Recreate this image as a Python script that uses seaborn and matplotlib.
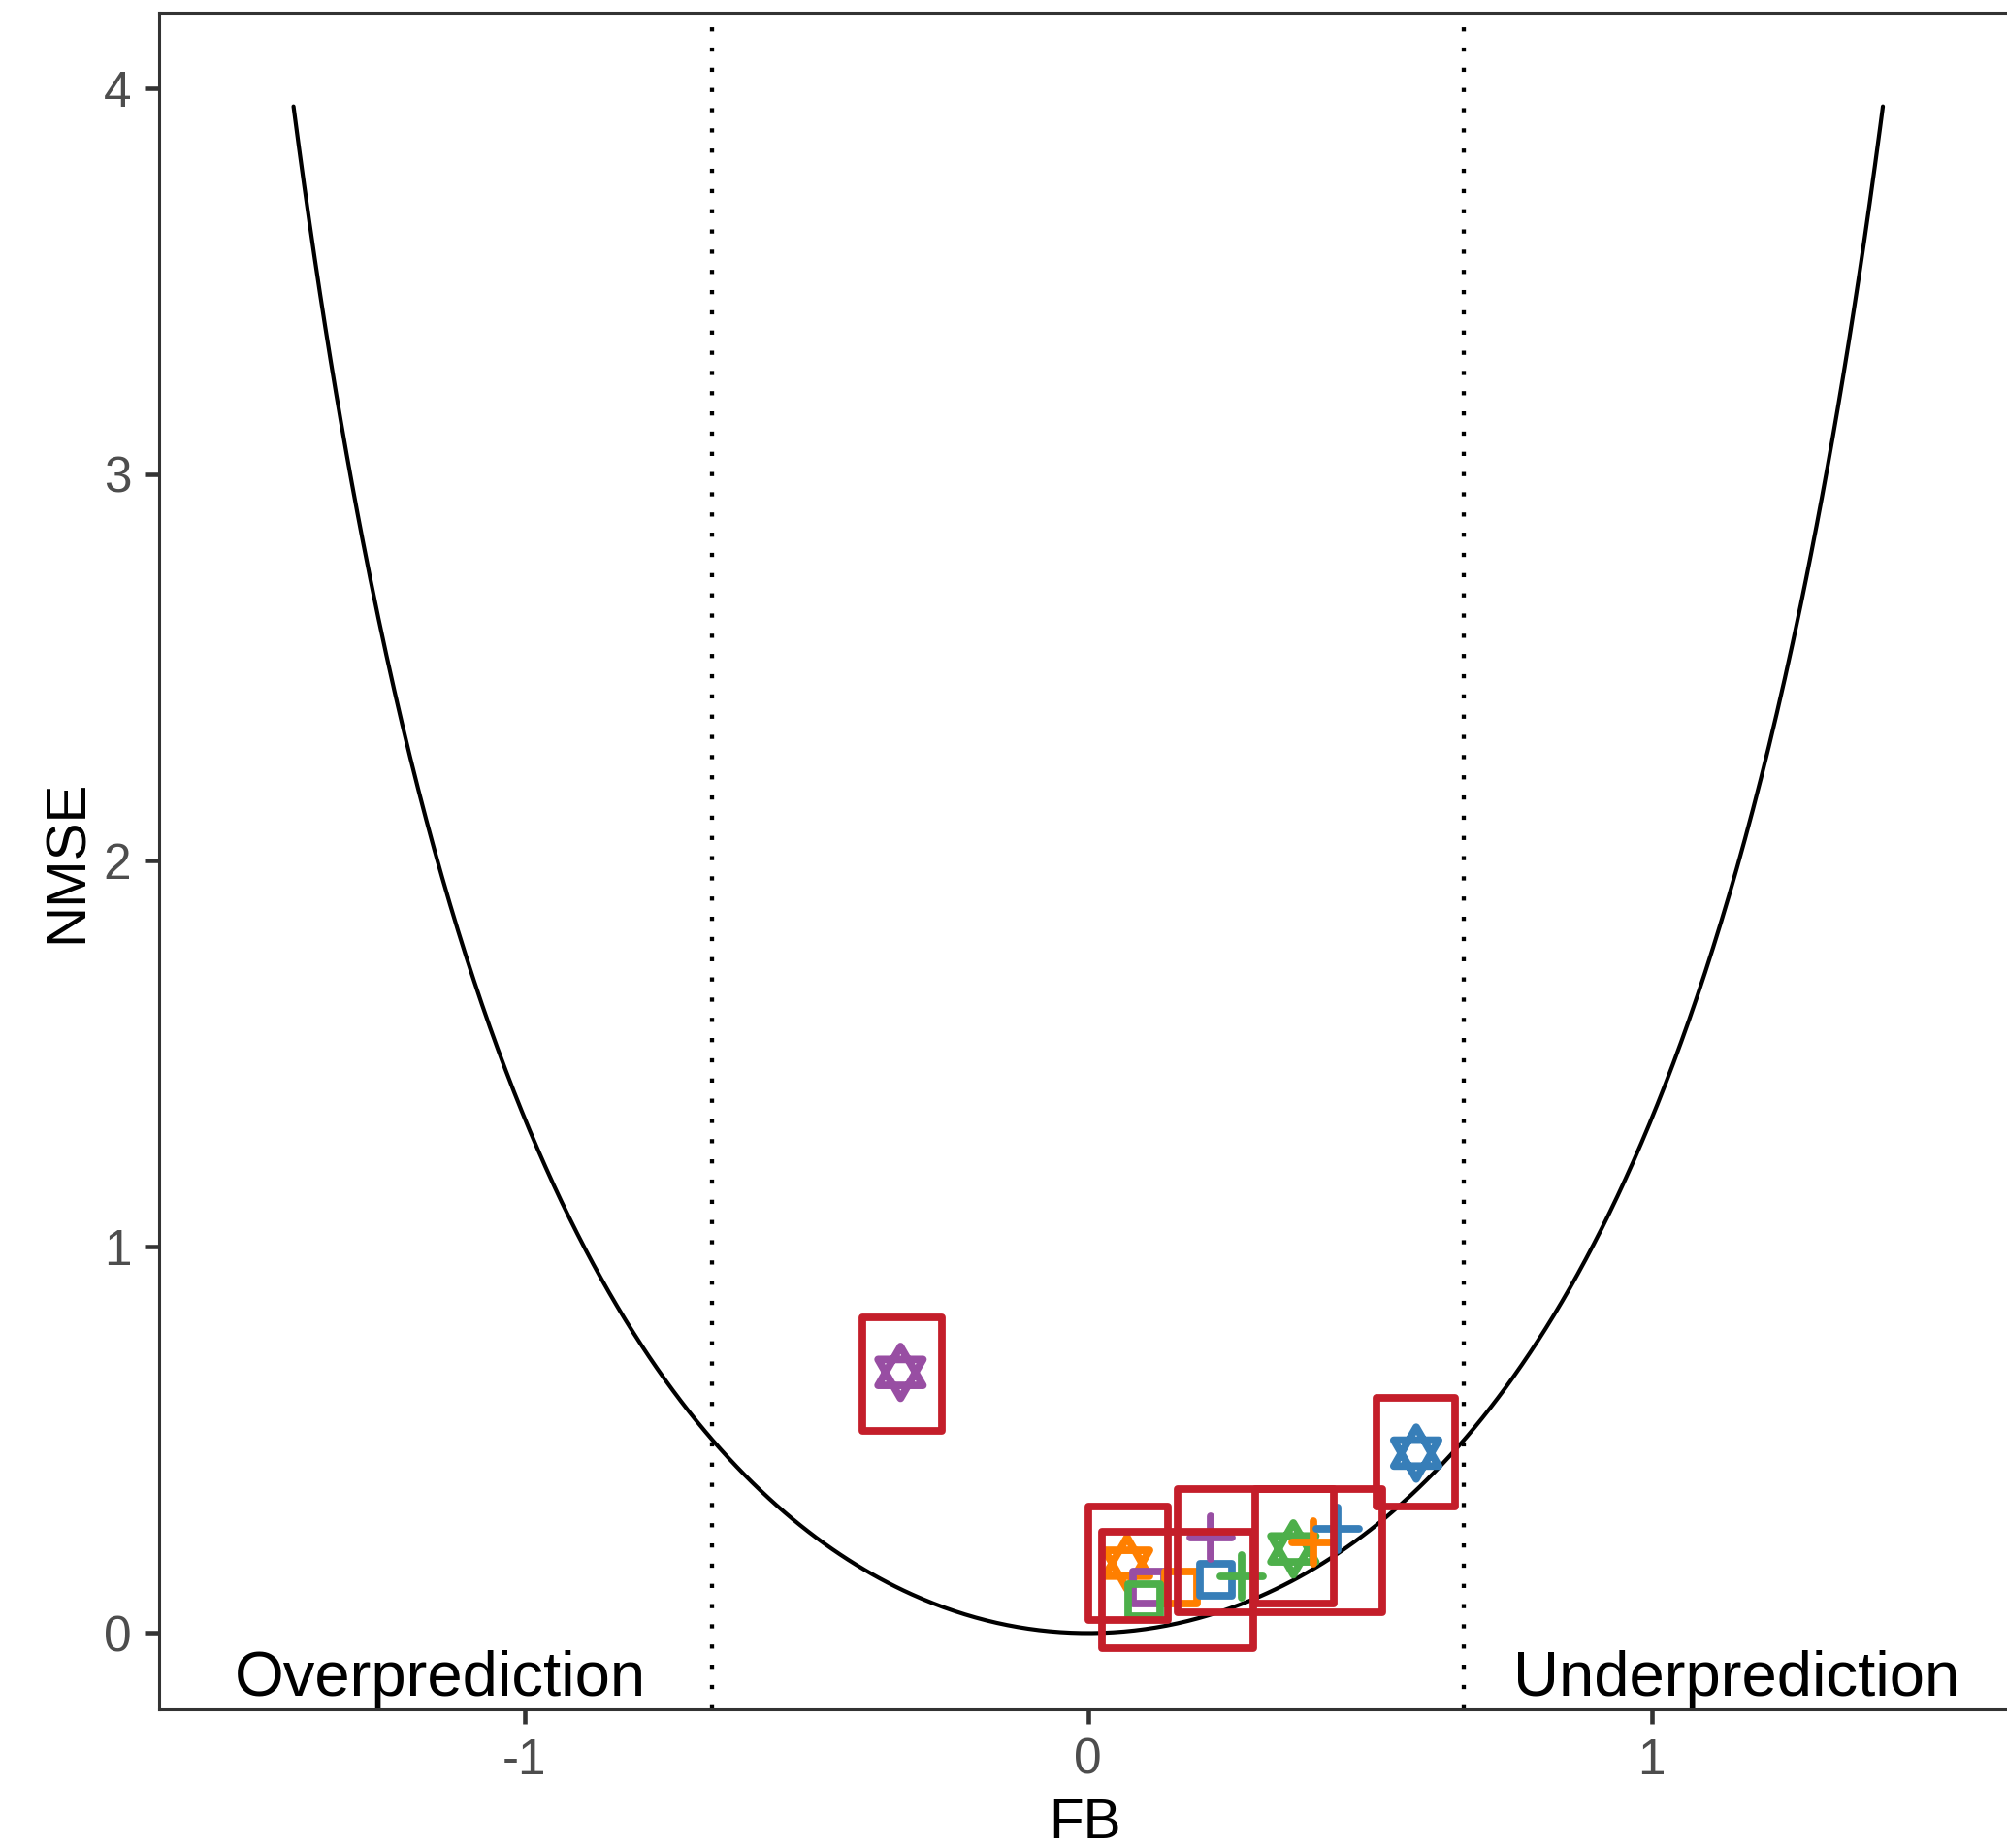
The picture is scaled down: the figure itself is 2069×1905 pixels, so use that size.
import numpy as np
import pandas as pd
import matplotlib
matplotlib.use("Agg")
from matplotlib import pyplot as plt
from matplotlib.path import Path
from matplotlib.markers import MarkerStyle
from matplotlib.patches import Rectangle
import seaborn as sns

# colour groups (same order in every symbol list)
groups = ["G1", "G2", "G3", "G4"]
group_colors = ["#984EA3", "#FF7F00", "#4DAF4A", "#377EB8"]

# points per symbol
star_fb = [-0.333, 0.069, 0.364, 0.582]
star_nmse = [0.675, 0.181, 0.218, 0.466]
square_fb = [0.107, 0.164, 0.100, 0.226]
square_nmse = [0.119, 0.117, 0.086, 0.139]
plus_fb = [0.218, 0.400, 0.273, 0.442]
plus_nmse = [0.248, 0.234, 0.147, 0.269]

# red boxes: FB range and NMSE range
box_fb_lo = [-0.400, 0.001, 0.297, 0.512, 0.024, 0.159]
box_fb_hi = [-0.260, 0.141, 0.436, 0.651, 0.293, 0.522]
box_nmse_lo = [0.524, 0.034, 0.076, 0.327, -0.039, 0.053]
box_nmse_hi = [0.817, 0.327, 0.372, 0.608, 0.263, 0.372]

# factor-of-two limits and extent of the minimum NMSE curve
fb_limits = [-2 / 3, 2 / 3]
fb_curve_max = 1.41

sns.set_theme(style="white")
plt.rcParams["font.family"] = ["Liberation Sans", "DejaVu Sans"]
plt.rcParams["axes.unicode_minus"] = False

fig = plt.figure(figsize=(20.69, 19.05), dpi=100)
ax = fig.add_axes([0.0794, 0.0751, 0.9256, 0.9182])

# minimum NMSE for a given FB
fb_curve = np.linspace(-fb_curve_max, fb_curve_max, 600)
nmse_curve = 4 * fb_curve ** 2 / (4 - fb_curve ** 2)
sns.lineplot(x=fb_curve, y=nmse_curve, ax=ax, color="black", linewidth=3.0, zorder=2)

for v in fb_limits:
    ax.axvline(v, color="black", linewidth=3.1, linestyle=(0, (1, 3.84)),
               dash_capstyle="butt", zorder=2)

# star of david marker (two triangles)
w2 = 1 / np.sqrt(3)
star_path = Path(
    [(0, 2 / 3), (-w2, -1 / 3), (w2, -1 / 3), (0, 2 / 3),
     (0, -2 / 3), (-w2, 1 / 3), (w2, 1 / 3), (0, -2 / 3)],
    [Path.MOVETO, Path.LINETO, Path.LINETO, Path.CLOSEPOLY,
     Path.MOVETO, Path.LINETO, Path.LINETO, Path.CLOSEPOLY],
)

shapes = [
    (star_fb, star_nmse, MarkerStyle(star_path), 1480, True),
    (square_fb, square_nmse, "s", 560, True),
    (plus_fb, plus_nmse, "+", 1000, False),
]
for xs, ys, marker, size, hollow in shapes:
    df = pd.DataFrame({"FB": xs, "NMSE": ys, "group": groups})
    sns.scatterplot(data=df, x="FB", y="NMSE", hue="group", palette=group_colors,
                    marker=marker, s=size, linewidth=5.6, legend=False, ax=ax, zorder=3)
    coll = ax.collections[-1]
    if hollow:
        coll.set_edgecolors(coll.get_facecolors())
        coll.set_facecolors("none")
    coll.set_linewidths(5.6)
    coll.set_joinstyle("round")
    coll.set_capstyle("round")

for x0, x1, y0, y1 in zip(box_fb_lo, box_fb_hi, box_nmse_lo, box_nmse_hi):
    ax.add_patch(Rectangle((x0, y0), x1 - x0, y1 - y0, fill=False,
                           edgecolor="#C41E2A", linewidth=5.6,
                           joinstyle="round", zorder=4))

ax.text(-1.15, -0.161, "Overprediction", ha="center", va="baseline",
        fontsize=47, color="black")
ax.text(1.15, -0.161, "Underprediction", ha="center", va="baseline",
        fontsize=47, color="black")

ax.set_xlim(-1.648, 1.648)
ax.set_ylim(-0.197, 4.196)
ax.set_xticks([-1, 0, 1])
ax.set_yticks([0, 1, 2, 3, 4])
ax.tick_params(axis="both", length=10.8, width=3.3, color="#333333",
               labelcolor="#4D4D4D", labelsize=37, pad=10,
               bottom=True, left=True)
ax.spines["right"].set_visible(False)
for s in ["top", "left", "bottom"]:
    ax.spines[s].set_color("#333333")
    ax.spines[s].set_linewidth(2.2)

ax.set_xlabel("FB", fontsize=42, color="black")
ax.set_ylabel("NMSE", fontsize=42, color="black")
ax.xaxis.set_label_coords(0.4983, -0.052)
ax.yaxis.set_label_coords(-0.0351, 0.5)
ax.grid(False)

fig.savefig("out.png", dpi=100)
